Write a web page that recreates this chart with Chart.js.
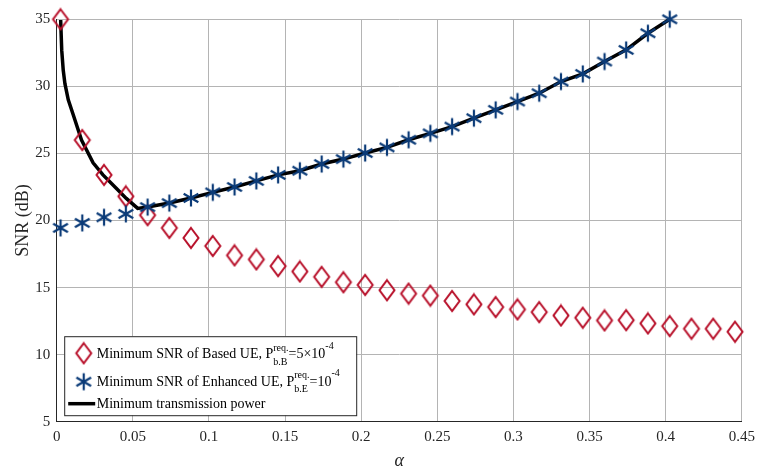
<!DOCTYPE html>
<html lang="en">
<head>
    <meta charset="UTF-8">
    <title>Minimum SNR vs alpha</title>
    <script src="https://cdn.jsdelivr.net/npm/chart.js"></script>
    <style>
        body {
            margin: 0;
            padding: 0;
            background: #fff;
        }
        #chart {
            display: block;
        }
    </style>
</head>
<body>
    <canvas id="chart" width="761" height="466"></canvas>

    <script>
        // alpha values where the markers sit
        const alpha = [0.0025, 0.0168, 0.0311, 0.0454, 0.0597, 0.0740, 0.0882, 0.1025, 0.1168, 0.1311,
                       0.1454, 0.1597, 0.1740, 0.1883, 0.2026, 0.2169, 0.2311, 0.2454, 0.2597, 0.2740,
                       0.2883, 0.3026, 0.3169, 0.3312, 0.3455, 0.3598, 0.3740, 0.3883, 0.4026, 0.4169,
                       0.4312, 0.4455];

        // minimum SNR of based UE (dB)
        const baseSNR = [35.0, 26.0, 23.4, 21.8, 20.4, 19.45, 18.7, 18.1, 17.4, 17.1,
                         16.6, 16.2, 15.8, 15.4, 15.2, 14.8, 14.55, 14.4, 14.0, 13.75,
                         13.55, 13.37, 13.17, 12.92, 12.75, 12.55, 12.57, 12.33, 12.13, 11.93,
                         11.93, 11.71];

        // minimum SNR of enhanced UE (dB), stops at alpha ~ 0.40
        const enhancedSNR = [19.45, 19.82, 20.24, 20.49, 21.0, 21.3, 21.68, 22.1, 22.5, 22.95,
                             23.4, 23.71, 24.21, 24.58, 25.03, 25.45, 26.02, 26.5, 27.0, 27.63,
                             28.25, 28.87, 29.49, 30.36, 30.93, 31.85, 32.72, 33.96, 35.0];

        // minimum transmission power curve (finer sampling near the start)
        const powerAlpha = [0.0026, 0.0033, 0.0043, 0.0054, 0.0076, 0.0108, 0.0163, 0.0239, 0.0304, 0.0391,
                            0.0457, 0.0532, 0.0597, 0.0740, 0.0882, 0.1025, 0.1168, 0.1311, 0.1454, 0.1597,
                            0.1740, 0.1883, 0.2026, 0.2169, 0.2311, 0.2454, 0.2597, 0.2740, 0.2883, 0.3026,
                            0.3169, 0.3312, 0.3455, 0.3598, 0.3740, 0.3883, 0.4026];
        const powerSNR = [34.95, 32.7, 31.2, 30.2, 29.0, 27.9, 26.0, 24.3, 23.4, 22.4,
                          21.65, 20.9, 21.0, 21.3, 21.68, 22.1, 22.5, 22.95, 23.4, 23.71,
                          24.21, 24.58, 25.03, 25.45, 26.02, 26.5, 27.0, 27.63, 28.25, 28.87,
                          29.49, 30.36, 30.93, 31.85, 32.72, 33.96, 35.0];

        const xTicks = [0, 0.05, 0.1, 0.15, 0.2, 0.25, 0.3, 0.35, 0.4, 0.45];
        const xTickLabels = ['0', '0.05', '0.1', '0.15', '0.2', '0.25', '0.3', '0.35', '0.4', '0.45'];
        const yTicks = [5, 10, 15, 20, 25, 30, 35];
        const yTickLabels = ['5', '10', '15', '20', '25', '30', '35'];

        const RED = '#b8102a';
        const BLUE = '#0b3b78';
        const FONT = "'Liberation Serif', 'Times New Roman', serif";

        // MATLAB style markers: tall hollow diamond and 6-arm asterisk
        function makeDiamond() {
            const c = document.createElement('canvas');
            c.width = 20; c.height = 24;
            const g = c.getContext('2d');
            g.strokeStyle = RED;
            g.lineWidth = 2;
            g.beginPath();
            g.moveTo(10, 2);
            g.lineTo(17.5, 12);
            g.lineTo(10, 22);
            g.lineTo(2.5, 12);
            g.closePath();
            g.stroke();
            return c;
        }

        function makeStar() {
            const c = document.createElement('canvas');
            c.width = 20; c.height = 20;
            const g = c.getContext('2d');
            g.strokeStyle = BLUE;
            g.lineWidth = 2.2;
            const r = 8.5;
            g.beginPath();
            for (const a of [90, 30, -30]) {
                const dx = r * Math.cos(a * Math.PI / 180);
                const dy = r * Math.sin(a * Math.PI / 180);
                g.moveTo(10 - dx, 10 - dy);
                g.lineTo(10 + dx, 10 + dy);
            }
            g.stroke();
            return c;
        }

        const diamond = makeDiamond();
        const star = makeStar();

        // draws text pieces with sub/superscripts, returns end x
        function drawRich(ctx, x, y, parts) {
            for (const p of parts) {
                if (p.sup !== undefined || p.sub !== undefined) {
                    ctx.font = '10px ' + FONT;
                    let w = 0;
                    if (p.sup) { ctx.fillText(p.sup, x, y - (p.sub ? 7.5 : 9.5)); w = ctx.measureText(p.sup).width; }
                    if (p.sub) { ctx.fillText(p.sub, x, y + 6.5); w = Math.max(w, ctx.measureText(p.sub).width); }
                    x += w;
                } else {
                    ctx.font = '14px ' + FONT;
                    ctx.fillText(p.text, x, y);
                    x += ctx.measureText(p.text).width;
                }
            }
            return x;
        }

        const legendPlugin = {
            id: 'customLegend',
            afterDraw(chart) {
                const ctx = chart.ctx;
                const area = chart.chartArea;
                const left = area.left + 7.5;
                const top = area.bottom - 85.5;
                const w = 292, h = 79;
                ctx.save();
                ctx.fillStyle = '#fff';
                ctx.fillRect(left, top, w, h);
                ctx.strokeStyle = '#262626';
                ctx.lineWidth = 1;
                ctx.strokeRect(left + 0.5, top + 0.5, w, h);

                const symX = left + 19.5;
                const textX = left + 32.5;
                ctx.drawImage(diamond, symX - 10, top + 17 - 12);
                ctx.drawImage(star, symX - 10, top + 45.5 - 10);
                ctx.strokeStyle = '#000';
                ctx.lineWidth = 3.5;
                ctx.beginPath();
                ctx.moveTo(left + 4, top + 67.5);
                ctx.lineTo(left + 31, top + 67.5);
                ctx.stroke();

                ctx.fillStyle = '#000';
                ctx.textBaseline = 'alphabetic';
                ctx.textAlign = 'left';
                drawRich(ctx, textX, top + 22, [
                    {text: 'Minimum SNR of Based UE, P'},
                    {sup: 'req.', sub: 'b.B'},
                    {text: '=5\u00d710'},
                    {sup: '-4'}
                ]);
                drawRich(ctx, textX, top + 49.5, [
                    {text: 'Minimum SNR of Enhanced UE, P'},
                    {sup: 'req.', sub: 'b.E'},
                    {text: '=10'},
                    {sup: '-4'}
                ]);
                drawRich(ctx, textX, top + 72, [
                    {text: 'Minimum transmission power'}
                ]);
                ctx.restore();
            }
        };

        const ctx = document.getElementById('chart').getContext('2d');

        new Chart(ctx, {
            type: 'scatter',
            data: {
                datasets: [
                    {
                        label: 'Minimum SNR of Enhanced UE',
                        data: enhancedSNR.map((v, i) => ({x: alpha[i], y: v})),
                        pointStyle: star,
                        showLine: false,
                        clip: false,
                        order: 0
                    },
                    {
                        label: 'Minimum SNR of Based UE',
                        data: baseSNR.map((v, i) => ({x: alpha[i], y: v})),
                        pointStyle: diamond,
                        showLine: false,
                        clip: false,
                        order: 1
                    },
                    {
                        label: 'Minimum transmission power',
                        data: powerSNR.map((v, i) => ({x: powerAlpha[i], y: v})),
                        showLine: true,
                        borderColor: '#000',
                        borderWidth: 3.5,
                        pointRadius: 0,
                        tension: 0,
                        clip: false,
                        order: 2
                    }
                ]
            },
            options: {
                responsive: false,
                animation: false,
                events: [],
                layout: {
                    padding: {left: 0, top: 19.3, right: 14.3, bottom: 0}
                },
                plugins: {
                    legend: {display: false},
                    tooltip: {enabled: false}
                },
                scales: {
                    x: {
                        type: 'linear',
                        min: 0,
                        max: 0.45,
                        afterBuildTicks: s => { s.ticks = xTicks.map(v => ({value: v})); },
                        afterFit: s => { s.height = 44.3; },
                        grid: {color: '#b4b4b4', lineWidth: 1, drawTicks: false},
                        border: {display: true, color: '#262626', width: 1},
                        ticks: {
                            padding: 6,
                            color: '#262626',
                            font: {family: FONT, size: 15},
                            maxRotation: 0,
                            callback: (v, i) => xTickLabels[i]
                        },
                        title: {
                            display: true,
                            text: 'α',
                            color: '#262626',
                            font: {family: FONT, size: 18, style: 'italic'},
                            padding: {top: 0, bottom: -6}
                        }
                    },
                    y: {
                        type: 'linear',
                        min: 5,
                        max: 35,
                        afterBuildTicks: s => { s.ticks = yTicks.map(v => ({value: v})); },
                        afterFit: s => { s.width = 56.7; },
                        grid: {color: '#b4b4b4', lineWidth: 1, drawTicks: false},
                        border: {display: true, color: '#262626', width: 1},
                        ticks: {
                            padding: 6.5,
                            color: '#262626',
                            font: {family: FONT, size: 15},
                            callback: (v, i) => yTickLabels[i]
                        },
                        title: {
                            display: true,
                            text: 'SNR (dB)',
                            color: '#262626',
                            font: {family: FONT, size: 18},
                            padding: {top: 12, bottom: 0}
                        }
                    }
                }
            },
            plugins: [legendPlugin]
        });
    </script>
</body>
</html>
